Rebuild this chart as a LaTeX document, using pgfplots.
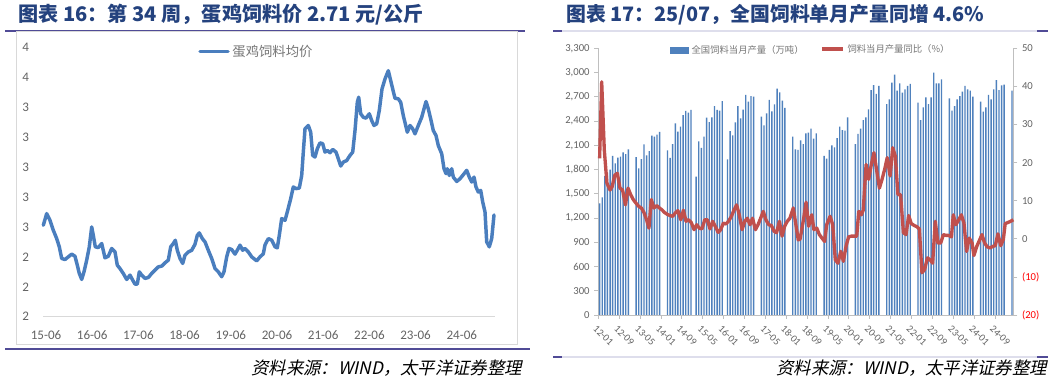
\documentclass[border=0pt]{standalone}
\usepackage{pgfplots}
\pgfplotsset{compat=1.18}
\usepackage{fontspec}
\setmainfont{Carlito}
\newfontfamily\cjk{Noto Sans CJK SC}
\newfontfamily\cjkit{Noto Sans CJK SC}[FakeSlant=0.22]
\definecolor{ttl}{RGB}{36,66,126}
\definecolor{sep}{RGB}{80,75,150}
\definecolor{seplight}{RGB}{222,222,236}
\definecolor{framegray}{RGB}{217,217,217}
\definecolor{labgray}{RGB}{100,100,100}
\definecolor{leggray}{RGB}{118,118,118}
\definecolor{lineblue}{RGB}{74,126,190}
\definecolor{barblue}{RGB}{79,129,189}
\definecolor{redline}{RGB}{192,80,77}
\definecolor{axgray}{RGB}{191,191,191}
\begin{document}
\begin{tikzpicture}
\useasboundingbox (0pt,0pt) rectangle (795pt,-288pt);
\begin{scope}[x=0.75pt,y=-0.75pt]
\fill[white] (0,0) rectangle (1060,384);
% separators
\draw[sep, line width=0.8pt] (5,31) -- (525,31);
\draw[sep, line width=0.8pt] (5,349) -- (530,349);
\draw[sep, line width=0.8pt] (553,31) -- (1048,31);
\draw[seplight, line width=0.8pt] (562,31) -- (1037,31);
\draw[sep, line width=0.8pt] (553,357) -- (1048,357);
\draw[seplight, line width=0.8pt] (562,357) -- (1037,357);
\filldraw[fill=white, draw=framegray, line width=0.6pt] (16,31) rectangle (517,344);
% titles
\node[anchor=west,inner sep=0,text=ttl,font=\cjk\bfseries\fontsize{15.1}{17}\selectfont] at (18,15) {图表 16：第 34 周，蛋鸡饲料价 2.71 元/公斤};
\node[anchor=west,inner sep=0,text=ttl,font=\cjk\bfseries\fontsize{14.9}{17}\selectfont] at (566,15) {图表 17：25/07，全国饲料单月产量同增 4.6\%};
% sources
\node[anchor=east,inner sep=0,font=\cjkit\fontsize{13}{15}\selectfont] at (522,368) {资料来源：WIND，太平洋证券整理};
\node[anchor=east,inner sep=0,font=\cjkit\fontsize{13}{15}\selectfont] at (1047,368) {资料来源：WIND，太平洋证券整理};
\end{scope}

% ---------- left chart
\begin{axis}[
  at={(32.25pt,-237.525pt)}, anchor=south west,
  scale only axis, width=339pt, height=202pt,
  xmin=43, xmax=495, ymin=2.0, ymax=3.8,
  axis x line*=bottom, axis y line*=left,
  x axis line style={draw=framegray, line width=0.8pt, -},
  y axis line style={draw=none},
  major tick length=0pt,
  xtick={46,92.2,138.4,184.6,230.8,277,323.2,369.4,415.6,461.8},
  xticklabels={15-06,16-06,17-06,18-06,19-06,20-06,21-06,22-06,23-06,24-06},
  ytick={2.0,2.2,2.4,2.6,2.8,3.0,3.2,3.4,3.6,3.8},
  yticklabels={2,2,2,3,3,3,3,3,4,4},
  tick label style={font=\fontsize{9.8}{11}\selectfont, text=labgray},
  xticklabel style={yshift=-7pt},
  yticklabel style={xshift=-7pt},
  clip=false,
  legend style={at={(0.343,0.984)}, anchor=west, draw=none, fill=none, inner sep=0pt,
    font=\cjk\fontsize{10}{12}\selectfont, text=leggray},
  legend cell align=left,
  legend image code/.code={\draw[lineblue, line width=2.6pt] (0pt,0pt) -- (21pt,0pt);},
]
\addplot[color=lineblue, line width=2.6pt, line join=round, line cap=round] coordinates {
(43.3,2.611) (46.7,2.689) (50,2.644) (53.3,2.578) (56.7,2.522) (59.3,2.467) (61.7,2.389) (65,2.382) (68.3,2.400) (71.7,2.418) (75,2.404) (77.3,2.344) (79.3,2.289) (81.7,2.249) (84,2.300) (86.7,2.378) (89.3,2.467) (91.7,2.600) (93.3,2.544) (95.3,2.467) (98.3,2.462) (101.7,2.489) (105,2.393) (108.3,2.404) (111.7,2.456) (115,2.433) (117.3,2.344) (120,2.322) (123.3,2.289) (126.7,2.249) (130,2.278) (132.7,2.244) (135,2.218) (137.3,2.218) (139.3,2.300) (141.7,2.278) (145,2.256) (148.3,2.262) (151.7,2.289) (155,2.311) (158.3,2.333) (161.7,2.338) (165,2.360) (168.3,2.378) (170.7,2.467) (173.3,2.489) (175.3,2.511) (177.3,2.444) (180,2.389) (182.7,2.356) (185,2.411) (188.3,2.433) (191.7,2.444) (195,2.484) (197.3,2.544) (199.3,2.560) (202.3,2.522) (205,2.500) (208.3,2.444) (211.7,2.389) (215,2.322) (218.3,2.300) (221.7,2.267) (224,2.300) (226.7,2.400) (229,2.456) (231.7,2.449) (235,2.418) (238.3,2.456) (240,2.478) (242.7,2.444) (245,2.456) (248.3,2.433) (251.7,2.400) (256.7,2.373) (260,2.400) (263.3,2.420) (265,2.480) (268.3,2.522) (271.7,2.511) (275,2.467) (277.3,2.460) (279.3,2.544) (281.7,2.656) (285,2.644) (287.3,2.700) (290.7,2.789) (293.3,2.867) (296,2.856) (299.3,2.860) (301.7,2.944) (303.3,3.100) (305,3.256) (308.3,3.278) (310.7,3.233) (312.7,3.078) (315,3.067) (317.3,3.122) (320,3.162) (322.7,3.156) (325,3.100) (327.3,3.111) (330,3.096) (332.7,3.118) (336,3.100) (338.3,3.056) (340.7,3.007) (343.3,3.033) (346.7,3.044) (350,3.078) (352.7,3.100) (355,3.244) (357.3,3.433) (358.7,3.467) (360.7,3.356) (363.3,3.333) (366,3.327) (369.3,3.356) (371.7,3.311) (374,3.278) (376.7,3.289) (379.3,3.378) (382,3.522) (385,3.589) (388.3,3.644) (390.7,3.578) (392.7,3.522) (395,3.460) (398.3,3.456) (400.7,3.433) (403.3,3.344) (405.7,3.278) (407.3,3.233) (410,3.278) (412.7,3.256) (415,3.222) (418.3,3.278) (421.7,3.333) (424,3.389) (426,3.438) (428.3,3.389) (430.7,3.322) (433.3,3.244) (436,3.211) (438.3,3.144) (441.7,3.089) (444,2.989) (446,2.956) (447.3,2.989) (449.3,2.944) (451.7,2.989) (453.3,2.933) (456.7,2.904) (460,2.922) (463.3,2.949) (466.7,2.978) (469.3,2.933) (471.7,2.900) (474,2.933) (476,2.867) (478.3,2.833) (480.7,2.844) (482.7,2.767) (485,2.700) (486.7,2.500) (489.3,2.467) (491.7,2.522) (494,2.680)
};
\addlegendentry{蛋鸡饲料均价}
\end{axis}

% ---------- right chart: bars
\begin{axis}[
  at={(448.725pt,-236.25pt)}, anchor=south west,
  scale only axis, width=311.25pt, height=200pt,
  xmin=-0.5, xmax=158.5, ymin=0, ymax=3300,
  axis x line*=bottom, axis y line*=left,
  axis line style={draw=axgray, line width=0.6pt, -},
  tick style={draw=axgray, line width=0.6pt},
  tick align=outside, major tick length=3pt,
  ytick={0,300,...,3300},
  scaled y ticks=false,
  /pgf/number format/assume math mode=true,
  /pgf/number format/1000 sep={,},
  xtick={-0.5,7.5,...,151.5},
  xticklabels={12-01,12-09,13-05,14-01,14-09,15-05,16-01,16-09,17-05,18-01,18-09,19-05,20-01,20-09,21-05,22-01,22-09,23-05,24-01,24-09},
  tick label style={font=\fontsize{8}{9}\selectfont, text=labgray},
  xticklabel style={rotate=-45, anchor=north west, xshift=-1pt, font=\fontsize{7.6}{8}\selectfont},
  ybar, bar width=1.05pt,
  clip=false,
  legend style={at={(0.1728,0.9936)}, anchor=west, draw=none, fill=none, inner sep=0pt,
    font=\cjk\fontsize{7}{8}\selectfont, text=leggray},
  legend cell align=left,
  legend image code/.code={\fill[barblue] (0pt,-2.6pt) rectangle (14pt,2.6pt);},
]
\addplot[fill=barblue, draw=none] coordinates {
(0,1382) (1,1456) (2,1720) (3,1761) (4,1800) (5,1968) (6,1877) (7,1947) (8,1959) (9,2013) (10,1992) (11,2050)
(14,1955) (15,1815) (16,1930) (17,2112) (18,1976) (19,2029) (20,2219) (21,2207) (22,2232) (23,2265)
(26,2038) (27,1943) (28,2116) (29,2372) (30,2269) (31,2331) (32,2475) (33,2525) (34,2504) (35,2537)
(37,1712) (38,2149) (39,2067) (40,2207) (41,2442) (42,2388) (43,2446) (44,2586) (45,2537) (46,2529) (47,2648)
(49,1926) (50,2277) (51,2223) (52,2384) (53,2586) (54,2434) (55,2541) (56,2723) (57,2640) (58,2710) (59,2702)
(62,2454) (63,2347) (64,2496) (65,2661) (66,2520) (67,2607) (68,2801) (69,2756) (70,2652) (71,2562)
(74,2207) (75,2050) (76,2042) (77,2160) (78,2116) (79,2248) (80,2256) (81,2306) (82,2182) (83,2248)
(86,1968) (87,1935) (88,2042) (89,2100) (90,2075) (91,2190) (92,2331) (93,2289) (94,2281) (95,2446)
(98,2116) (99,2240) (100,2306) (101,2413) (102,2446) (103,2545) (104,2784) (105,2846) (106,2735) (107,2834)
(110,2611) (111,2669) (112,2875) (113,2975) (114,2776) (115,2867) (116,2751) (117,2793) (118,2834) (119,2859)
(122,2628) (123,2413) (124,2570) (125,2694) (126,2611) (127,2694) (128,2999) (129,2867) (130,2867) (131,2916)
(134,2681) (135,2529) (136,2586) (137,2669) (138,2710) (139,2764) (140,2834) (141,2793) (142,2776) (143,2702)
(146,2640) (147,2516) (148,2570) (149,2723) (150,2669) (151,2793) (152,2908) (153,2784) (154,2842) (155,2850)
(158,2776)
};
\addlegendentry{全国饲料当月产量（万吨）}
\end{axis}

% ---------- right chart: YoY line
\begin{axis}[
  at={(448.725pt,-236.25pt)}, anchor=south west,
  scale only axis, width=311.25pt, height=200pt,
  xmin=-0.5, xmax=158.5, ymin=-20, ymax=50,
  axis x line=none, axis y line*=right,
  axis line style={draw=axgray, line width=0.6pt, -},
  tick style={draw=axgray, line width=0.6pt},
  tick align=outside, major tick length=3pt,
  ytick={-20,-10,0,10,20,30,40,50},
  yticklabels={\textcolor{red}{(20)},\textcolor{red}{(10)},0,10,20,30,40,50},
  tick label style={font=\fontsize{8}{9}\selectfont, text=labgray},
  clip=false,
  legend style={at={(0.534,0.997)}, anchor=west, draw=none, fill=none, inner sep=0pt,
    font=\cjk\fontsize{7}{8}\selectfont, text=leggray},
  legend cell align=left,
  legend image code/.code={\draw[redline, line width=2.5pt] (0pt,0pt) -- (16pt,0pt);},
]
\addplot[color=redline, line width=2.5pt, line join=round] coordinates {
(0,21.1) (0.8,41.2) (1.8,23.3) (2.8,14.6) (4.0,12.8) (4.8,13.7) (5.8,16.7) (6.8,17.2) (7.8,13.3) (8.8,12.8) (9.9,8.9) (10.9,13.3) (11.9,11.6) (12.9,10.3) (13.9,9.4) (15.0,8.5) (16.0,8.1) (17.0,6.9) (18.0,5.0) (18.9,2.8) (19.8,10.3) (20.8,8.1) (21.9,8.7) (22.9,8.1) (23.9,7.6) (24.9,6.9) (26.0,6.4) (27.0,6.1) (28.0,5.9) (29.0,6.8) (30.0,7.4) (31.1,5.0) (32.1,7.5) (33.1,4.6) (34.1,5.0) (35.1,4.3) (36.2,2.4) (37.2,3.7) (38.2,2.8) (39.2,2.6) (40.3,5.0) (41.3,5.0) (42.3,2.6) (43.3,4.6) (44.3,3.3) (45.4,1.7) (46.4,2.4) (47.4,4.1) (48.4,3.9) (49.4,4.6) (50.5,5.9) (51.5,7.6) (52.5,8.9) (53.5,6.3) (54.6,2.4) (55.6,4.6) (56.6,5.4) (57.6,3.7) (58.6,5.4) (59.7,2.4) (60.7,3.7) (61.7,5.4) (62.7,7.2) (63.7,5.0) (64.8,3.7) (65.8,3.5) (66.8,2.0) (67.8,1.6) (68.9,4.6) (69.9,0.7) (70.9,3.3) (71.9,4.6) (72.9,5.4) (74.2,8.1) (76.1,-0.3) (76.8,-0.1) (78.1,5.0) (79.1,9.6) (80.1,3.3) (81.3,6.3) (82.1,2.4) (83.2,2.8) (84.2,1.1) (85.2,0.2) (86.2,-0.7) (87.0,3.7) (88.3,5.9) (89.3,3.7) (90.3,-5.5) (91.3,-6.4) (92.4,-3.3) (93.4,-5.9) (94.4,-2.0) (95.4,0.5) (96.4,0.7) (97.5,0.7) (98.5,0.7) (99.3,7.2) (100.3,6.3) (101.0,7.5) (102.1,19.5) (103.1,15.6) (104.1,19.5) (105.1,22.6) (106.1,18.2) (107.2,13.3) (108.2,15.6) (109.2,18.2) (110.2,21.3) (111.3,16.5) (112.3,23.9) (113.3,21.7) (114.3,11.6) (115.3,11.6) (116.4,1.6) (117.4,1.1) (118.4,6.1) (119.4,4.0) (120.5,3.5) (121.5,3.2) (122.5,2.6) (123.5,-8.9) (124.5,-8.1) (125.6,-5.0) (126.6,-5.5) (127.6,-6.4) (128.6,4.6) (129.6,-1.1) (130.7,-1.1) (131.7,1.1) (132.7,0.9) (133.7,0.9) (134.8,0.5) (135.5,6.3) (136.5,3.7) (137.6,5.0) (138.6,6.3) (139.6,4.1) (140.6,-3.3) (141.6,0.2) (142.7,-1.1) (143.4,-4.4) (144.5,-2.0) (146.5,1.1) (147.5,-1.1) (148.5,-2.1) (149.6,-2.4) (150.6,-2.0) (151.6,-1.8) (152.6,1.3) (153.7,-1.8) (154.7,-0.1) (155.4,4.0) (156.5,4.3) (157.5,4.6) (158.5,5.0)
};
\addlegendentry{饲料当月产量同比（\%）}
\end{axis}
\end{tikzpicture}
\end{document}
